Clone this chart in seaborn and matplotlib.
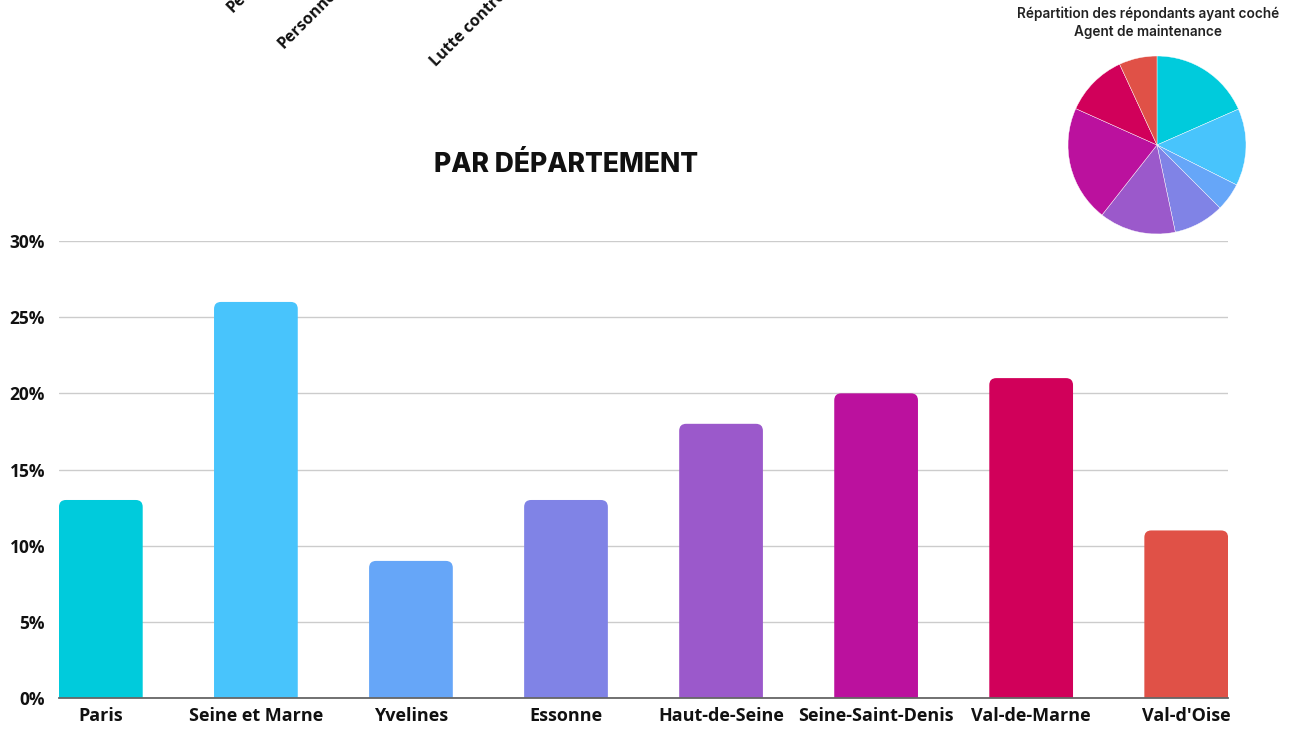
import os
import matplotlib
matplotlib.use("Agg")
import matplotlib.pyplot as plt
from matplotlib.patches import FancyBboxPatch
from matplotlib.font_manager import FontProperties
import seaborn as sns
import pandas as pd

# ---- data ----
departements = ["Paris", "Seine et Marne", "Yvelines", "Essonne", "Haut-de-Seine",
                "Seine-Saint-Denis", "Val-de-Marne", "Val-d'Oise"]
pourcentages = [13, 26, 9, 13, 18, 20, 21, 11]
couleurs = ["#00CBDC", "#48C4FC", "#66A6F8", "#8083E6", "#9B59CB",
            "#BB119E", "#D1005A", "#E05147"]
pie_parts = [18.4, 14.0, 5.1, 9.2, 13.9, 21.1, 11.4, 6.9]
yticks = [0, 5, 10, 15, 20, 25, 30]
ytick_labels = ["0%", "5%", "10%", "15%", "20%", "25%", "30%"]
titre = "PAR DÉPARTEMENT"
pie_titre = "Répartition des répondants ayant coché\nAgent de maintenance"
top_labels = ["Personnel", "Personnel", "Lutte contre"]


def fp(path, size, family="DejaVu Sans", weight="bold"):
    if os.path.exists(path):
        return FontProperties(fname=path, size=size)
    return FontProperties(family=family, weight=weight, size=size)


OS_BOLD = "/usr/share/fonts/truetype/open-sans/OpenSans-Bold.ttf"

sns.set_theme(style="white")
plt.rcParams["font.family"] = ["Open Sans", "DejaVu Sans"]

fig = plt.figure(figsize=(12.99, 7.29), dpi=100)
ax = fig.add_axes([0.0454, 0.0425, 0.9, 0.6269])

df = pd.DataFrame({"dep": departements, "val": pourcentages})
sns.barplot(data=df, x="dep", y="val", hue="dep", palette=couleurs, legend=False,
            width=0.54, saturation=1, ax=ax, zorder=3)

# rounded top corners
for p in list(ax.patches):
    x0, w, h = p.get_x(), p.get_width(), p.get_height()
    fc = p.get_facecolor()
    p.set_visible(False)
    rp = FancyBboxPatch((x0, -2), w, h + 2,
                        boxstyle="round,pad=0,rounding_size=0.045",
                        mutation_aspect=10.2, facecolor=fc, edgecolor="none",
                        zorder=3, clip_on=True)
    ax.add_patch(rp)

ax.set_xlim(-0.27, 7.27)
ax.set_ylim(0, 30)
ax.set_yticks(yticks)
ax.set_yticklabels(ytick_labels)
ax.tick_params(axis="y", length=0, pad=10)
ax.tick_params(axis="x", length=0, pad=6.5)
for lbl in ax.get_yticklabels():
    lbl.set_fontproperties(fp(OS_BOLD, 12.5))
    lbl.set_color("#111111")
for lbl in ax.get_xticklabels():
    lbl.set_fontproperties(fp(OS_BOLD, 13))
    lbl.set_color("#111111")
ax.set_xlabel("")
ax.set_ylabel("")
ax.yaxis.grid(True, color="#CCCCCC", linewidth=1, zorder=0)
ax.set_axisbelow(True)
for s in ["top", "right", "left"]:
    ax.spines[s].set_visible(False)
ax.spines["bottom"].set_color("#666666")
ax.spines["bottom"].set_linewidth(1.3)
ax.spines["bottom"].set_zorder(4)

fig.text(566 / 1299, 1 - 165 / 729, titre, ha="center", va="center",
         fontsize=19, fontweight="heavy", family=["Inter", "DejaVu Sans"], color="#111111")

# pie
pax = fig.add_axes([1068 / 1299, 1 - 234 / 729, 178 / 1299, 178 / 729])
pax.pie(pie_parts, colors=couleurs, startangle=90, counterclock=False,
        wedgeprops=dict(edgecolor="white", linewidth=0.3))
pax.set_xlim(-1, 1)
pax.set_ylim(-1, 1)
pax.set_aspect("equal")
fig.text(1148 / 1299, 1 - 23 / 729, pie_titre, ha="center", va="center",
         fontsize=9.8, fontweight="semibold", family=["Inter", "DejaVu Sans"],
         color="#222222", linespacing=1.3)

# rotated, cut-off labels at top
for (x, y), t in zip([(235, 16), (286, 52), (439, 70)], top_labels):
    fig.text(x / 1299, 1 - y / 729, t, rotation=45, ha="left", va="bottom",
             rotation_mode="anchor", fontproperties=fp(OS_BOLD, 11.5), color="#111111")

fig.savefig("out.png", dpi=100)
